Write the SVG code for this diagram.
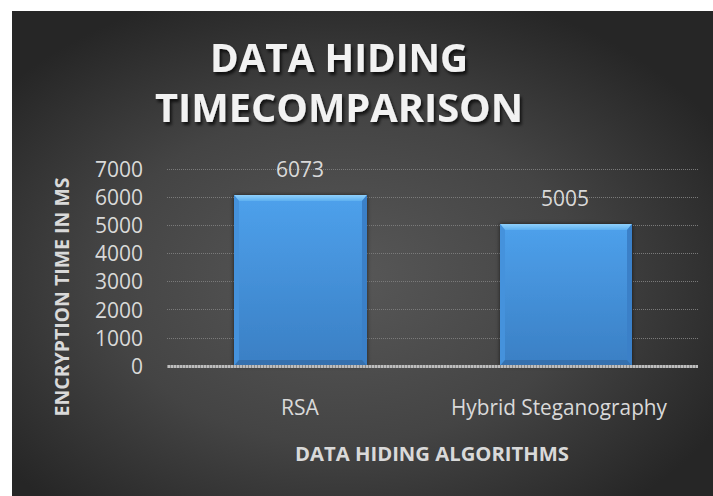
<svg xmlns="http://www.w3.org/2000/svg" width="713" height="496" viewBox="0 0 713 496">
  <defs>
    <radialGradient id="bg" cx="0.47" cy="0.55" r="0.62" gradientUnits="objectBoundingBox">
      <stop offset="0" stop-color="#585858"/>
      <stop offset="0.55" stop-color="#444444"/>
      <stop offset="1" stop-color="#262626"/>
    </radialGradient>
    <linearGradient id="barFace" x1="0" y1="0" x2="0" y2="1">
      <stop offset="0" stop-color="#4ea1ec"/>
      <stop offset="1" stop-color="#3a7fc4"/>
    </linearGradient>
    <linearGradient id="barTop" x1="0" y1="0" x2="0" y2="1">
      <stop offset="0" stop-color="#8fd0fb"/>
      <stop offset="1" stop-color="#5eb0f0"/>
    </linearGradient>
    <filter id="txtShadow" x="-10%" y="-20%" width="120%" height="150%">
      <feGaussianBlur in="SourceAlpha" stdDeviation="1.5"/>
      <feOffset dx="1.5" dy="2.5" result="b"/>
      <feFlood flood-color="#000" flood-opacity="0.7"/>
      <feComposite in2="b" operator="in"/>
      <feMerge><feMergeNode/><feMergeNode in="SourceGraphic"/></feMerge>
    </filter>
    <filter id="barShadow" x="-10%" y="-5%" width="120%" height="110%">
      <feGaussianBlur in="SourceAlpha" stdDeviation="2"/>
      <feOffset dx="0" dy="0" result="b"/>
      <feFlood flood-color="#000" flood-opacity="0.6"/>
      <feComposite in2="b" operator="in"/>
      <feMerge><feMergeNode/><feMergeNode in="SourceGraphic"/></feMerge>
    </filter>
  </defs>
  <style>
    .title { font-family: "Open Sans", "Liberation Sans", sans-serif; font-weight: bold; font-size: 39px; fill: #f2f2f2; text-anchor: middle; }
    .tick { font-family: "Open Sans", "Liberation Sans", sans-serif; font-size: 21px; fill: #d9d9d9; text-anchor: end; }
    .cat { font-family: "Open Sans", "Liberation Sans", sans-serif; font-size: 21px; fill: #d9d9d9; text-anchor: middle; }
    .val { font-family: "Open Sans", "Liberation Sans", sans-serif; font-size: 21px; fill: #d9d9d9; text-anchor: middle; }
    .axtitle { font-family: "Open Sans", "Liberation Sans", sans-serif; font-weight: bold; font-size: 20px; fill: #d9d9d9; text-anchor: middle; }
    .grid { stroke: #7a7a7a; stroke-width: 1; stroke-dasharray: 1 1; }
  </style>

  <rect x="0" y="0" width="713" height="496" fill="#ffffff"/>
  <rect x="12" y="11" width="701" height="485" fill="url(#bg)"/>

  <g id="title" filter="url(#txtShadow)">
    <text class="title" x="339" y="72" textLength="258" lengthAdjust="spacingAndGlyphs">DATA HIDING</text>
    <text class="title" x="339" y="122" textLength="368" lengthAdjust="spacingAndGlyphs">TIMECOMPARISON</text>
  </g>

  <g id="gridlines">
    <line class="grid" x1="167" y1="169.5" x2="698" y2="169.5"/>
    <line class="grid" x1="167" y1="197.5" x2="698" y2="197.5"/>
    <line class="grid" x1="167" y1="225.5" x2="698" y2="225.5"/>
    <line class="grid" x1="167" y1="253.5" x2="698" y2="253.5"/>
    <line class="grid" x1="167" y1="281.5" x2="698" y2="281.5"/>
    <line class="grid" x1="167" y1="309.5" x2="698" y2="309.5"/>
    <line class="grid" x1="167" y1="338.5" x2="698" y2="338.5"/>
  </g>

  <g id="y-ticks">
    <text class="tick" x="143" y="177">7000</text>
    <text class="tick" x="143" y="205">6000</text>
    <text class="tick" x="143" y="233">5000</text>
    <text class="tick" x="143" y="261">4000</text>
    <text class="tick" x="143" y="289">3000</text>
    <text class="tick" x="143" y="318">2000</text>
    <text class="tick" x="143" y="346">1000</text>
    <text class="tick" x="143" y="374">0</text>
  </g>

  <g id="bar-rsa" filter="url(#barShadow)">
    <rect x="234" y="195" width="133" height="171" fill="url(#barFace)"/>
    <polygon points="234,195 367,195 362,201 239,201" fill="url(#barTop)"/>
    <polygon points="234,195 239,201 239,360 234,366" fill="#4592dc"/>
    <polygon points="367,195 362,201 362,360 367,366" fill="#3a80c8"/>
    <polygon points="234,366 239,360 362,360 367,366" fill="#346fae"/>
  </g>
  <g id="bar-hybrid" filter="url(#barShadow)">
    <rect x="500" y="224" width="132" height="142" fill="url(#barFace)"/>
    <polygon points="500,224 632,224 627,230 505,230" fill="url(#barTop)"/>
    <polygon points="500,224 505,230 505,360 500,366" fill="#4592dc"/>
    <polygon points="632,224 627,230 627,360 632,366" fill="#3a80c8"/>
    <polygon points="500,366 505,360 627,360 632,366" fill="#346fae"/>
  </g>

  <g id="x-axis">
    <line x1="167" y1="366.5" x2="698" y2="366.5" stroke="#bdbdbd" stroke-width="3"/>
    <line x1="167" y1="366.5" x2="698" y2="366.5" stroke="#8a8a8a" stroke-width="3" stroke-dasharray="1 2"/>
  </g>

  <g id="value-labels">
    <text class="val" x="300" y="177">6073</text>
    <text class="val" x="565" y="206">5005</text>
  </g>

  <g id="categories">
    <text class="cat" x="300" y="415">RSA</text>
    <text class="cat" x="559" y="415" textLength="216" lengthAdjust="spacingAndGlyphs">Hybrid Steganography</text>
  </g>

  <g id="axis-titles">
    <text class="axtitle" x="432" y="461" textLength="274" lengthAdjust="spacingAndGlyphs">DATA HIDING ALGORITHMS</text>
    <text class="axtitle" transform="translate(69 297) rotate(-90)" x="0" y="0" textLength="239" lengthAdjust="spacingAndGlyphs">ENCRYPTION TIME IN MS</text>
  </g>
</svg>
